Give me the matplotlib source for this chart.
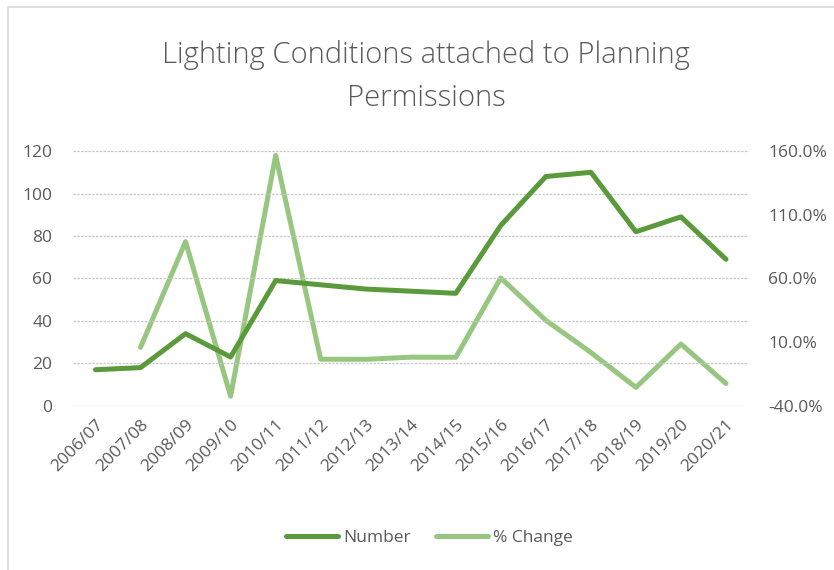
import matplotlib.pyplot as plt
from matplotlib.patches import Rectangle
from matplotlib.ticker import FuncFormatter

years = ["2006/07", "2007/08", "2008/09", "2009/10", "2010/11", "2011/12", "2012/13",
         "2013/14", "2014/15", "2015/16", "2016/17", "2017/18", "2018/19", "2019/20", "2020/21"]
number = [17, 18, 34, 23, 59, 57, 55, 54, 53, 85, 108, 110, 82, 89, 69]
# no % change for the first year
pct_change = [5.9, 88.9, -32.4, 156.5, -3.4, -3.5, -1.8, -1.9, 60.4, 27.1, 1.9, -25.5, 8.5, -22.5]

dark = "#5b9a3b"
light = "#97c680"
grey = "#595959"

plt.rcParams['font.family'] = ['Open Sans', 'DejaVu Sans']

fig = plt.figure(figsize=(8.34, 5.70), dpi=100)
ax = fig.add_axes([0.0875, 0.288, 0.81, 0.447])
ax2 = ax.twinx()

x = list(range(len(years)))
ax.plot(x, number, color=dark, lw=3.6, solid_capstyle='round', label="Number", zorder=3)
ax2.plot(x[1:], pct_change, color=light, lw=3.6, solid_capstyle='round', label="% Change", zorder=3)

ax.set_xlim(-0.5, len(years) - 0.5)
ax.set_ylim(0, 120)
ax.set_yticks(range(0, 121, 20))
ax2.set_ylim(-40, 160)
ax2.set_yticks([-40, 10, 60, 110, 160])
ax2.yaxis.set_major_formatter(FuncFormatter(lambda v, p: f"{v:.1f}%"))

ax.set_xticks(x)
ax.set_xticklabels(years, rotation=45, ha='right', rotation_mode='anchor')

for a in (ax, ax2):
    for s in a.spines.values():
        s.set_visible(False)
    a.tick_params(length=0, colors=grey, labelsize=12.5)
ax.tick_params(axis='y', pad=15)
ax2.tick_params(axis='y', pad=14)
ax.tick_params(axis='x', pad=8)

ax.grid(axis='y', color='#c8c8c8', ls=(0, (2, 1)), lw=0.9)
ax.set_axisbelow(True)
ax2.set_zorder(ax.get_zorder() - 1)
ax.patch.set_visible(False)
ax2.patch.set_visible(False)

fig.text(0.511, 0.866, "Lighting Conditions attached to Planning\nPermissions",
         ha='center', va='center', fontsize=21, color=grey, linespacing=1.6,
         fontweight='light')

h1, l1 = ax.get_legend_handles_labels()
h2, l2 = ax2.get_legend_handles_labels()
fig.legend(h1 + h2, l1 + l2, loc='center', bbox_to_anchor=(0.515, 0.056), ncol=2,
           frameon=False, fontsize=12.5, labelcolor=grey, handlelength=3.0,
           handletextpad=0.3, columnspacing=1.4)

fig.patches.append(Rectangle((0.009, -0.01), 1.2, 0.997, transform=fig.transFigure,
                             fill=False, edgecolor='#d9d9d9', lw=1.2))

fig.savefig("out.png", dpi=100)
